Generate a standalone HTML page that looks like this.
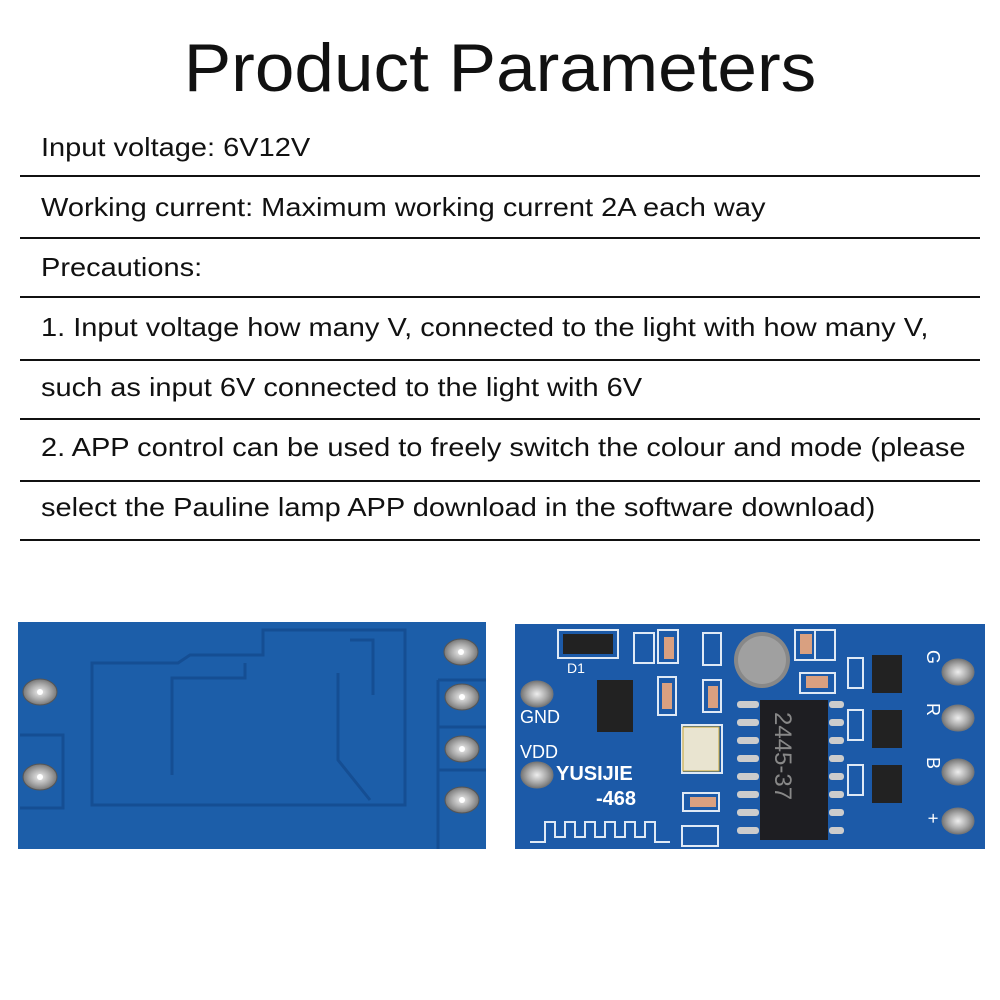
<!DOCTYPE html>
<html><head><meta charset="utf-8"><style>
body{margin:0;width:1000px;height:1000px;background:#fff;position:relative;overflow:hidden;font-family:"Liberation Sans",sans-serif;color:#111}
.t{position:absolute;left:0;width:1000px;top:28px;text-align:center;font-size:68px;line-height:80px;transform:scaleX(1.046);transform-origin:500px 0}
.l{position:absolute;left:41px;font-size:26px;line-height:30px;white-space:nowrap;transform:scaleX(1.115);transform-origin:0 0}
.r{position:absolute;left:20px;width:960px;height:2px;background:#111}
svg{position:absolute;left:0;top:0}
</style></head><body>
<div class="t">Product Parameters</div>
<div class="l" style="top:132px">Input voltage: 6V12V</div><div class="r" style="top:175px"></div>
<div class="l" style="top:192px">Working current: Maximum working current 2A each way</div><div class="r" style="top:237px"></div>
<div class="l" style="top:252px">Precautions:</div><div class="r" style="top:296px"></div>
<div class="l" style="top:312px">1. Input voltage how many V, connected to the light with how many V,</div><div class="r" style="top:359px"></div>
<div class="l" style="top:372px">such as input 6V connected to the light with 6V</div><div class="r" style="top:418px"></div>
<div class="l" style="top:432px">2. APP control can be used to freely switch the colour and mode (please</div><div class="r" style="top:480px"></div>
<div class="l" style="top:492px">select the Pauline lamp APP download in the software download)</div><div class="r" style="top:539px"></div>
<svg width="1000" height="1000">
<defs><radialGradient id="p"><stop offset="0" stop-color="#eee"/><stop offset="0.6" stop-color="#aaa"/><stop offset="1" stop-color="#777"/></radialGradient></defs>
<rect x="18" y="622" width="468" height="227" fill="#1c5ea9"/>
<g fill="none" stroke="#154e93" stroke-width="3">
<path d="M92 805V663H178L190 655H263V630H405V805Z"/>
<path d="M172 775V678H245V663"/><path d="M350 640H373V695"/><path d="M338 673V760L370 800"/>
<path d="M438 680H486M438 727H486M438 770H486M438 680V849"/>
<path d="M20 735H63V808H20"/>
</g>
<g fill="url(#p)" stroke="#555"><ellipse cx="40" cy="692" rx="17" ry="13"/><ellipse cx="40" cy="777" rx="17" ry="13"/>
<ellipse cx="461" cy="652" rx="17" ry="13"/><ellipse cx="462" cy="697" rx="17" ry="13"/><ellipse cx="462" cy="749" rx="17" ry="13"/><ellipse cx="462" cy="800" rx="17" ry="13"/></g>
<g fill="#fff"><circle cx="40" cy="692" r="3"/><circle cx="40" cy="777" r="3"/><circle cx="461" cy="652" r="3"/><circle cx="462" cy="697" r="3"/><circle cx="462" cy="749" r="3"/><circle cx="462" cy="800" r="3"/></g>
<rect x="515" y="624" width="470" height="225" fill="#1c5aa8"/>
<g fill="none" stroke="#dfe9f5" stroke-width="2">
<rect x="558" y="630" width="60" height="28"/><rect x="634" y="633" width="20" height="30"/><rect x="658" y="630" width="20" height="33"/>
<rect x="703" y="633" width="18" height="32"/><rect x="703" y="680" width="18" height="32"/><rect x="658" y="677" width="18" height="38"/>
<rect x="795" y="630" width="20" height="30"/><rect x="815" y="630" width="20" height="30"/><rect x="800" y="673" width="35" height="20"/>
<rect x="682" y="725" width="40" height="48"/><rect x="683" y="793" width="36" height="18"/><rect x="682" y="826" width="36" height="20"/>
<rect x="848" y="658" width="15" height="30"/><rect x="848" y="710" width="15" height="30"/><rect x="848" y="765" width="15" height="30"/>
<path d="M530 842H545V822H555V837H565V822H575V837H585V822H595V837H605V822H615V837H625V822H635V837H645V822H655V842H670"/>
</g>
<rect x="563" y="634" width="50" height="20" fill="#222"/>
<rect x="597" y="680" width="36" height="52" fill="#222"/>
<rect x="683" y="727" width="36" height="44" fill="#e9e4d0" stroke="#c9a430"/>
<rect x="760" y="700" width="68" height="140" fill="#1e1e22"/>
<text x="0" y="0" transform="translate(775 712) rotate(90)" fill="#888" font-size="24" font-family="Liberation Sans,sans-serif">2445-37</text>
<g fill="#ccc"><rect x="737" y="701" width="22" height="7" rx="3"/><rect x="737" y="719" width="22" height="7" rx="3"/><rect x="737" y="737" width="22" height="7" rx="3"/><rect x="737" y="755" width="22" height="7" rx="3"/><rect x="737" y="773" width="22" height="7" rx="3"/><rect x="737" y="791" width="22" height="7" rx="3"/><rect x="737" y="809" width="22" height="7" rx="3"/><rect x="737" y="827" width="22" height="7" rx="3"/>
<rect x="829" y="701" width="15" height="7" rx="3"/><rect x="829" y="719" width="15" height="7" rx="3"/><rect x="829" y="737" width="15" height="7" rx="3"/><rect x="829" y="755" width="15" height="7" rx="3"/><rect x="829" y="773" width="15" height="7" rx="3"/><rect x="829" y="791" width="15" height="7" rx="3"/><rect x="829" y="809" width="15" height="7" rx="3"/><rect x="829" y="827" width="15" height="7" rx="3"/></g>
<circle cx="762" cy="660" r="28" fill="#888"/><circle cx="762" cy="660" r="24" fill="#a0a0a0"/>
<g fill="#d9a080"><rect x="664" y="637" width="10" height="22"/><rect x="708" y="686" width="10" height="22"/><rect x="662" y="683" width="10" height="26"/><rect x="800" y="634" width="12" height="20"/><rect x="806" y="676" width="22" height="12"/><rect x="690" y="797" width="26" height="10"/></g>
<g fill="#222"><rect x="872" y="655" width="30" height="38"/><rect x="872" y="710" width="30" height="38"/><rect x="872" y="765" width="30" height="38"/></g>
<g fill="url(#p)" stroke="#777"><ellipse cx="537" cy="694" rx="16" ry="13"/><ellipse cx="537" cy="775" rx="16" ry="13"/>
<ellipse cx="958" cy="672" rx="16" ry="13"/><ellipse cx="958" cy="718" rx="16" ry="13"/><ellipse cx="958" cy="772" rx="16" ry="13"/><ellipse cx="958" cy="821" rx="16" ry="13"/></g>
<g fill="#fff" font-family="Liberation Sans,sans-serif" font-size="18">
<text x="520" y="723">GND</text><text x="520" y="758">VDD</text>
<text x="556" y="780" font-size="20" font-weight="bold">YUSIJIE</text><text x="596" y="805" font-size="20" font-weight="bold">-468</text>
<text x="567" y="673" font-size="14">D1</text>
<text transform="translate(927 650) rotate(90)">G</text><text transform="translate(927 703) rotate(90)">R</text><text transform="translate(927 757) rotate(90)">B</text><text transform="translate(927 813) rotate(90)">+</text>
</g>
</svg>
</body></html>
